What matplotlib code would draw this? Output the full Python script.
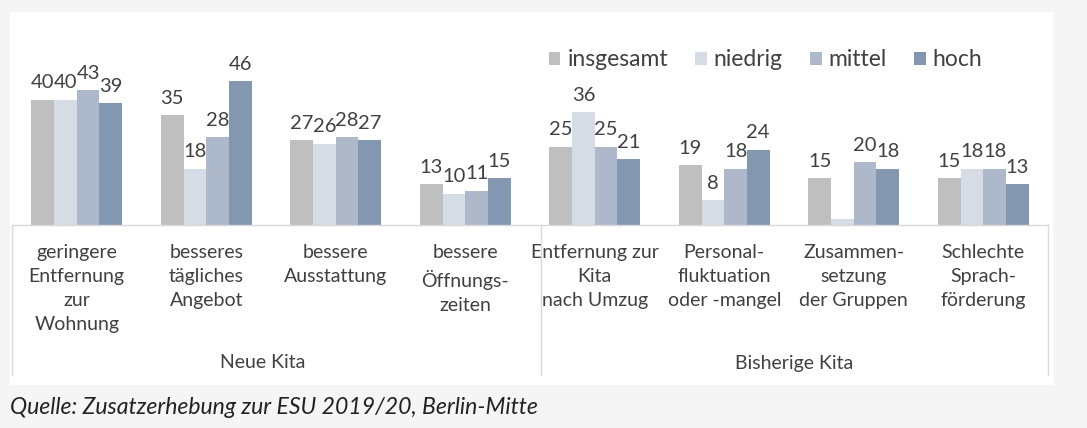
import numpy as np
import matplotlib.pyplot as plt
from matplotlib.patches import Rectangle
from matplotlib.lines import Line2D

plt.rcParams['font.family'] = ['Lato', 'DejaVu Sans']

categories = ['geringere\nEntfernung\nzur\nWohnung', 'besseres\ntägliches\nAngebot',
              'bessere\nAusstattung', 'bessere\nÖffnungs-\nzeiten',
              'Entfernung zur\nKita\nnach Umzug', 'Personal-\nfluktuation\noder -mangel',
              'Zusammen-\nsetzung\nder Gruppen', 'Schlechte\nSprach-\nförderung']
groups = ['Neue Kita', 'Bisherige Kita']
series = ['insgesamt', 'niedrig', 'mittel', 'hoch']
insgesamt = [40, 35, 27, 13, 25, 19, 15, 15]
niedrig = [40, 18, 26, 10, 36, 8, 2, 18]
mittel = [43, 28, 28, 11, 25, 18, 20, 18]
hoch = [39, 46, 27, 15, 21, 24, 18, 13]
niedrig_labels = ['40', '18', '26', '10', '36', '8', '', '18']

colors = ['#bfbfbf', '#d6dce5', '#adb9ca', '#8497b0']
txt = '#404040'
W, H = 1087, 428

fig = plt.figure(figsize=(W / 100, H / 100), dpi=100, facecolor='#f5f5f5')
fig.patches.append(Rectangle((10 / W, 1 - 385 / H), 1043 / W, 373 / H,
                             transform=fig.transFigure, facecolor='white',
                             edgecolor='none', zorder=-5))

ax = fig.add_axes([12 / W, 1 - 225 / H, 1036 / W, 213 / H])
ax.set_facecolor('none')
x = np.arange(len(categories))
bw = 0.175
data = [insgesamt, niedrig, mittel, hoch]
for i, (vals, c, name) in enumerate(zip(data, colors, series)):
    bars = ax.bar(x + (i - 1.5) * bw, vals, bw, color=c, label=name, zorder=2)
    labels = niedrig_labels if name == 'niedrig' else [str(v) for v in vals]
    ax.bar_label(bars, labels=labels, padding=6, fontsize=14.5, color=txt)

ax.set_xlim(-0.5, len(categories) - 0.5)
ax.set_ylim(0, 68)
ax.set_yticks([])
for s in ax.spines.values():
    s.set_visible(False)
ax.set_xticks(x)
ax.set_xticklabels(categories, fontsize=14, color=txt, linespacing=1.5,
                   va='top')
ax.tick_params(axis='x', length=0, pad=14)

# category table lines
lc = '#d9d9d9'
fig.add_artist(Line2D([12 / W, 1048 / W], [1 - 225 / H] * 2, color=lc, lw=1))
for xp in [12, 541, 1048]:
    fig.add_artist(Line2D([xp / W] * 2, [1 - 225 / H, 1 - 375 / H], color=lc, lw=1))
fig.text(263 / W, 1 - 363 / H, groups[0], ha='center', va='center', fontsize=14, color=txt)
fig.text(794 / W, 1 - 363 / H, groups[1], ha='center', va='center', fontsize=14, color=txt)

ax.legend(loc='center left', bbox_to_anchor=(549 / W, 1 - 60 / H),
          bbox_transform=fig.transFigure, ncol=4, frameon=False, fontsize=16.5,
          labelcolor=txt, handlelength=0.5, handleheight=0.5, handletextpad=0.3,
          columnspacing=1.2, borderpad=0, borderaxespad=0)

fig.text(10 / W, 1 - 408 / H, 'Quelle: Zusatzerhebung zur ESU 2019/20, Berlin-Mitte',
         ha='left', va='center', fontsize=16.6, style='italic', color='#222222')

fig.savefig('out.png', dpi=100, facecolor=fig.get_facecolor())
